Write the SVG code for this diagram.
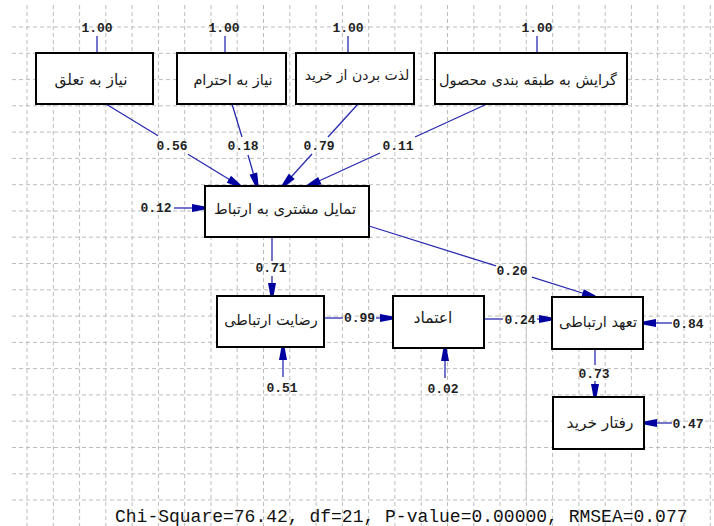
<svg xmlns="http://www.w3.org/2000/svg" width="714" height="526" viewBox="0 0 714 526">
<style>
.grid{stroke:#bdbdbd;stroke-width:1;stroke-dasharray:4 3;fill:none}
.box{fill:#fff;stroke:#000;stroke-width:2}
.fa{font-family:"DejaVu Sans",sans-serif;font-size:14.8px;fill:#1a1a1a;text-anchor:middle;direction:rtl}
.num{font-family:"Liberation Mono",monospace;font-size:13px;font-weight:bold;fill:#222;text-anchor:middle}
.ln{stroke:#2a2ab0;stroke-width:1.3;fill:none}
.fit{font-family:"Liberation Mono",monospace;font-size:18px;fill:#111}
</style>
<defs>
<marker id="ah" markerUnits="userSpaceOnUse" markerWidth="16" markerHeight="10" viewBox="0 -5 14 10" refX="13" refY="0" orient="auto">
<path d="M0,-4 L13,-1.6 L13,1.6 L0,4 Z" fill="#0000a0"/>
</marker>
</defs>
<rect width="714" height="526" fill="#fff"/>
<g id="grid">
<path class="grid" d="M27,5V526M53.3,5V526M79.6,5V526M105.8,5V526M132.1,5V526M158.4,5V526M184.7,5V526M211,5V526M237.2,5V526M263.5,5V526M289.8,5V526M316.1,5V526M342.4,5V526M368.6,5V526M394.9,5V526M421.2,5V526M447.5,5V526M473.8,5V526M500,5V526M526.3,5V526M552.6,5V526M578.9,5V526M605.2,5V526M631.4,5V526M657.7,5V526M684,5V526M710.3,5V526"/>
<path class="grid" d="M12,27H714M12,53.3H714M12,79.6H714M12,105.8H714M12,132.1H714M12,158.4H714M12,184.7H714M12,211H714M12,237.2H714M12,263.5H714M12,289.8H714M12,316.1H714M12,342.4H714M12,368.6H714M12,394.9H714M12,421.2H714M12,447.5H714M12,473.8H714M12,500H714"/>
<line x1="526.3" y1="237" x2="526.3" y2="500" stroke="#c8c8c8" stroke-width="1"/>
</g>
<g id="connectors">
<line class="ln" x1="97" y1="36" x2="97" y2="53"/>
<line class="ln" x1="225" y1="36" x2="225" y2="53"/>
<line class="ln" x1="348" y1="36" x2="348" y2="53"/>
<line class="ln" x1="537" y1="36" x2="537" y2="53"/>
<line class="ln" x1="106" y1="104" x2="158" y2="135.8"/>
<line class="ln" x1="188" y1="154.2" x2="240" y2="186" marker-end="url(#ah)"/>
<line class="ln" x1="232" y1="104" x2="242" y2="137"/>
<line class="ln" x1="248" y1="155" x2="257" y2="186" marker-end="url(#ah)"/>
<line class="ln" x1="358" y1="104" x2="328" y2="137"/>
<line class="ln" x1="312" y1="154" x2="283" y2="186" marker-end="url(#ah)"/>
<line class="ln" x1="487" y1="104" x2="415" y2="137"/>
<line class="ln" x1="380" y1="153" x2="308" y2="186" marker-end="url(#ah)"/>
<line class="ln" x1="174" y1="208" x2="205" y2="208" marker-end="url(#ah)"/>
<line class="ln" x1="272" y1="237" x2="272" y2="261"/>
<line class="ln" x1="272" y1="276" x2="272" y2="296" marker-end="url(#ah)"/>
<line class="ln" x1="369" y1="226" x2="496" y2="265.9"/>
<line class="ln" x1="532" y1="277.2" x2="595" y2="297" marker-end="url(#ah)"/>
<line class="ln" x1="324" y1="318" x2="343" y2="318"/>
<line class="ln" x1="376" y1="318" x2="393" y2="318" marker-end="url(#ah)"/>
<line class="ln" x1="484" y1="319" x2="503" y2="319"/>
<line class="ln" x1="537" y1="319" x2="552" y2="319" marker-end="url(#ah)"/>
<line class="ln" x1="283" y1="377" x2="283" y2="347" marker-end="url(#ah)"/>
<line class="ln" x1="445" y1="378" x2="445" y2="348" marker-end="url(#ah)"/>
<line class="ln" x1="672" y1="323" x2="643" y2="323" marker-end="url(#ah)"/>
<line class="ln" x1="595" y1="349" x2="595" y2="365"/>
<line class="ln" x1="595" y1="381" x2="595" y2="397" marker-end="url(#ah)"/>
<line class="ln" x1="672" y1="423" x2="644" y2="423" marker-end="url(#ah)"/>
</g>
<g id="labels">
<text class="num" x="97" y="32">1.00</text>
<text class="num" x="224" y="32">1.00</text>
<text class="num" x="348" y="32">1.00</text>
<text class="num" x="537" y="32">1.00</text>
<text class="num" x="172" y="150">0.56</text>
<text class="num" x="243" y="150">0.18</text>
<text class="num" x="319" y="150">0.79</text>
<text class="num" x="398" y="150">0.11</text>
<text class="num" x="156" y="212">0.12</text>
<text class="num" x="271" y="272">0.71</text>
<text class="num" x="512" y="275">0.20</text>
<text class="num" x="359.5" y="322">0.99</text>
<text class="num" x="520" y="324">0.24</text>
<text class="num" x="688" y="328">0.84</text>
<text class="num" x="594" y="378">0.73</text>
<text class="num" x="282" y="392">0.51</text>
<text class="num" x="443" y="393">0.02</text>
<text class="num" x="688" y="428">0.47</text>
</g>
<g id="n1"><rect class="box" x="36" y="53" width="117" height="51"/><text class="fa" x="91" y="85" style="font-size:15.4px">نیاز به تعلق</text></g>
<g id="n2"><rect class="box" x="177" y="53" width="109" height="51"/><text class="fa" x="233" y="85" style="font-size:14.5px">نیاز به احترام</text></g>
<g id="n3"><rect class="box" x="296" y="53" width="118" height="51"/><text class="fa" x="357" y="80" style="font-size:14px">لذت بردن از خرید</text></g>
<g id="n4"><rect class="box" x="435" y="53" width="192" height="51"/><text class="fa" x="528" y="85" style="font-size:14.5px">گرایش به طبقه بندی محصول</text></g>
<g id="n5"><rect class="box" x="205" y="186" width="164" height="51"/><text class="fa" x="285" y="214">تمایل مشتری به ارتباط</text></g>
<g id="n6"><rect class="box" x="217" y="296" width="107" height="51"/><text class="fa" x="271" y="325" style="font-size:14.4px">رضایت ارتباطی</text></g>
<g id="n7"><rect class="box" x="393" y="296" width="91" height="52"/><text class="fa" x="433" y="323" style="font-size:15.5px">اعتماد</text></g>
<g id="n8"><rect class="box" x="552" y="297" width="91" height="52"/><text class="fa" x="598" y="327" style="font-size:14.6px">تعهد ارتباطی</text></g>
<g id="n9"><rect class="box" x="553" y="397" width="91" height="52"/><text class="fa" x="600" y="428" style="font-size:15.4px">رفتار خرید</text></g>
<text class="fit" x="115" y="522">Chi-Square=76.42, df=21, P-value=0.00000, RMSEA=0.077</text>
</svg>
